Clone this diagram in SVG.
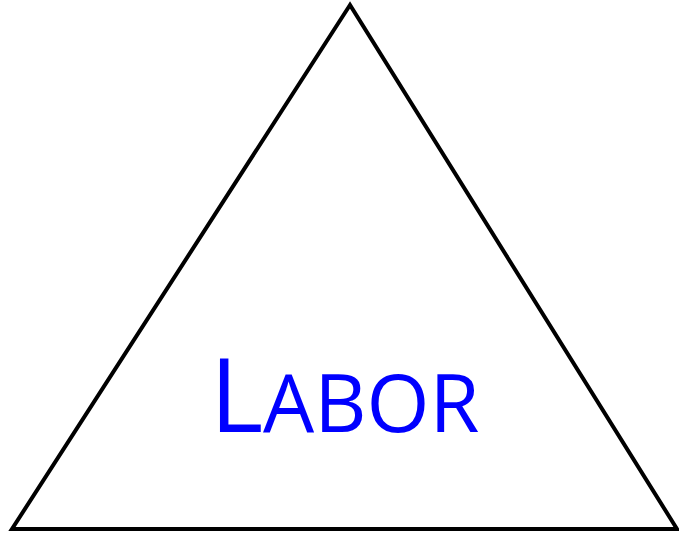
<svg xmlns="http://www.w3.org/2000/svg" width="679" height="533" viewBox="0 0 679 533">
<style>
.tri{fill:#fff;stroke:#000;stroke-width:4;stroke-linejoin:miter}
.lbl{font-family:"Open Sans","Noto Sans",sans-serif;fill:#0000ff}
</style>
<rect width="679" height="533" fill="#fff"/>
<g id="triangle">
<polygon class="tri" points="350,5 12,529 677,529"/>
</g>
<g id="label">
<text class="lbl" y="432"><tspan x="210" font-size="102">L</tspan><tspan x="263" font-size="81">ABOR</tspan></text>
</g>
</svg>
